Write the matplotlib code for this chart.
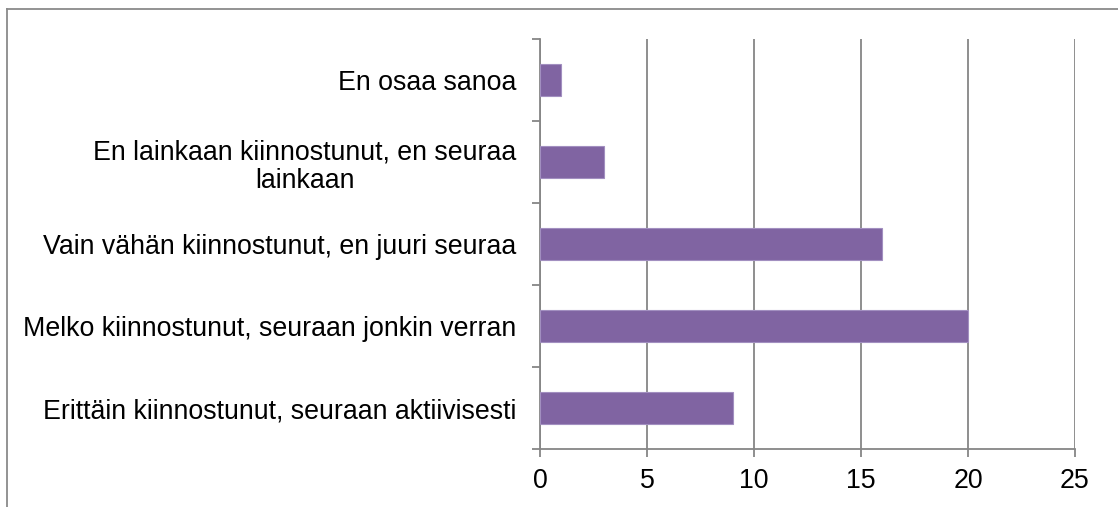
import matplotlib
matplotlib.use("Agg")
import matplotlib.pyplot as plt
from matplotlib.lines import Line2D

categories = [
    "Erittäin kiinnostunut, seuraan aktiivisesti",
    "Melko kiinnostunut, seuraan jonkin verran",
    "Vain vähän kiinnostunut, en juuri seuraa",
    "En lainkaan kiinnostunut, en seuraa\nlainkaan",
    "En osaa sanoa",
]
values = [9, 20, 16, 3, 1]
xticks = [0, 5, 10, 15, 20, 25]

plt.rcParams['font.family'] = ['Liberation Sans', 'DejaVu Sans']

fig = plt.figure(figsize=(11.18, 5.07), dpi=100)
ax = fig.add_axes([0.483, 0.1144, 0.9615 - 0.483, 0.923 - 0.1144])

grid_col = '#868686'
ypos = list(range(len(categories)))
ax.barh(ypos, values, height=0.4, color='#8064A2', edgecolor='#a28fc0',
        linewidth=0.8, zorder=3)

ax.set_xlim(0, 25)
ax.set_ylim(-0.5, len(categories) - 0.5)
ax.set_xticks(xticks)
ax.set_xticklabels([str(t) for t in xticks])
ax.xaxis.grid(True, color=grid_col, linewidth=1.3, zorder=0)

ax.set_yticks(ypos)
ax.set_yticklabels(categories, multialignment='center', linespacing=1.15)
ax.set_yticks([y - 0.5 for y in range(len(categories) + 1)], minor=True)
ax.tick_params(axis='y', which='major', length=0, pad=17, labelsize=19.3)
ax.tick_params(axis='y', which='minor', length=6, width=1.3, color=grid_col)
ax.tick_params(axis='x', length=6, width=1.3, color=grid_col, pad=8, labelsize=19.3)

for s in ['top', 'right']:
    ax.spines[s].set_visible(False)
for s in ['left', 'bottom']:
    ax.spines[s].set_color(grid_col)
    ax.spines[s].set_linewidth(1.3)

# outer chart frame (partly cut off at right and bottom)
fig.add_artist(Line2D([7 / 1118, 7 / 1118], [0, 1 - 9 / 507],
                      transform=fig.transFigure, color='#8a8a8a', linewidth=1.3))
fig.add_artist(Line2D([7 / 1118, 1], [1 - 9 / 507, 1 - 9 / 507],
                      transform=fig.transFigure, color='#8a8a8a', linewidth=1.3))

fig.savefig('out.png', dpi=100)
